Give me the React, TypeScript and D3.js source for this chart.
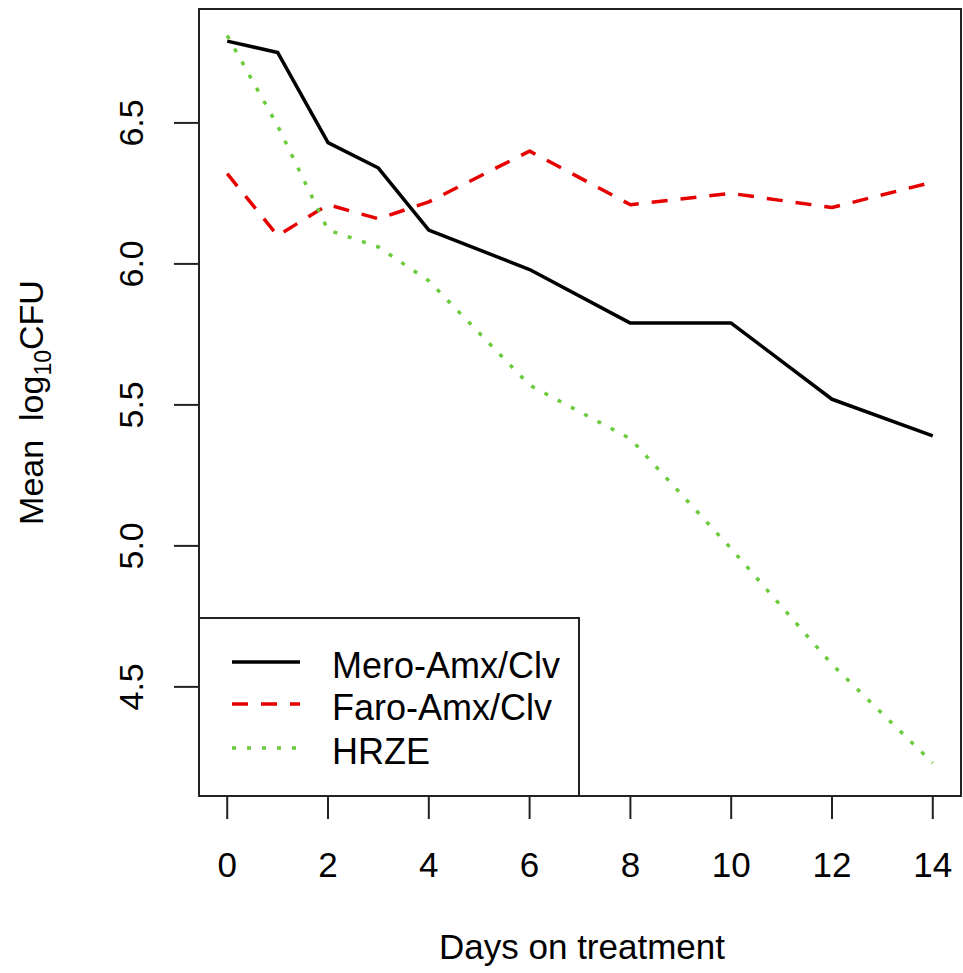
import React, { useEffect, useRef } from 'react'
import * as d3 from 'd3'

// days on treatment and mean log10 CFU per regimen
const days = [0, 1, 2, 3, 4, 6, 8, 10, 12, 14]
const mero = [6.79, 6.75, 6.43, 6.34, 6.12, 5.98, 5.79, 5.79, 5.52, 5.39]
const faro = [6.32, 6.10, 6.21, 6.16, 6.22, 6.40, 6.21, 6.25, 6.20, 6.29]
const hrze = [6.81, 6.49, 6.12, 6.06, 5.94, 5.57, 5.38, 4.99, 4.58, 4.23]

const seriesNames = ['Mero-Amx/Clv', 'Faro-Amx/Clv', 'HRZE']
const xTicks = [0, 2, 4, 6, 8, 10, 12, 14]
const yTicks = [4.5, 5.0, 5.5, 6.0, 6.5]

export default function App() {
  const ref = useRef<SVGSVGElement>(null)

  useEffect(() => {
    var width = 963
    var height = 973
    var box = { left: 199, right: 961, top: 9, bottom: 796 }
    var font = "'Liberation Sans', Arial, sans-serif"

    const svg = d3.select(ref.current)
    svg.selectAll('*').remove()

    var x = d3.scaleLinear().domain([-0.56, 14.56]).range([box.left, box.right])
    var y = d3.scaleLinear().domain([4.113, 6.904]).range([box.bottom, box.top])

    var styles = [
      { color: '#000000', dash: null },
      { color: '#e60000', dash: '16 13' },
      { color: '#6bcb3d', dash: '4 11' },
    ]
    var series = [mero, faro, hrze]

    var line = d3.line<number>()
      .x((d, i) => x(days[i]))
      .y(d => y(d))

    svg.append('g')
      .selectAll('path')
      .data(series)
      .join('path')
        .attr('d', d => line(d))
        .attr('fill', 'none')
        .attr('stroke', (d, i) => styles[i].color)
        .attr('stroke-width', 3.5)
        .attr('stroke-dasharray', (d, i) => styles[i].dash)
        .attr('stroke-linejoin', 'round')

    // x axis
    var xAxis = svg.append('g')
    xAxis.selectAll('line')
      .data(xTicks)
      .join('line')
        .attr('x1', d => x(d)).attr('x2', d => x(d))
        .attr('y1', box.bottom).attr('y2', box.bottom + 23)
        .attr('stroke', '#222').attr('stroke-width', 2)
    xAxis.selectAll('text')
      .data(xTicks)
      .join('text')
        .attr('x', d => x(d))
        .attr('y', 877)
        .attr('text-anchor', 'middle')
        .attr('font-family', font)
        .attr('font-size', 35)
        .text(d => d)

    // y axis
    var yAxis = svg.append('g')
    yAxis.selectAll('line')
      .data(yTicks)
      .join('line')
        .attr('x1', box.left - 25).attr('x2', box.left)
        .attr('y1', d => y(d)).attr('y2', d => y(d))
        .attr('stroke', '#222').attr('stroke-width', 2)
    yAxis.selectAll('text')
      .data(yTicks)
      .join('text')
        .attr('transform', d => `translate(143,${y(d)}) rotate(-90)`)
        .attr('text-anchor', 'middle')
        .attr('font-family', font)
        .attr('font-size', 34)
        .text(d => d3.format('.1f')(d))

    // plot frame
    svg.append('rect')
      .attr('x', box.left).attr('y', box.top)
      .attr('width', box.right - box.left).attr('height', box.bottom - box.top)
      .attr('fill', 'none').attr('stroke', '#222').attr('stroke-width', 2)

    // axis titles
    svg.append('text')
      .attr('x', (box.left + box.right) / 2 + 2)
      .attr('y', 959)
      .attr('text-anchor', 'middle')
      .attr('font-family', font)
      .attr('font-size', 35)
      .text('Days on treatment')

    var yt = svg.append('text')
      .attr('transform', `translate(43,${(box.top + box.bottom) / 2}) rotate(-90)`)
      .attr('text-anchor', 'middle')
      .attr('font-family', font)
      .attr('font-size', 34)
      .style('white-space', 'pre')
    yt.append('tspan').text('Mean  log')
    yt.append('tspan').attr('font-size', 23).attr('dy', 8).text('10')
    yt.append('tspan').attr('dy', -8).text('CFU')

    // legend
    var lg = svg.append('g')
    lg.append('rect')
      .attr('x', box.left).attr('y', 618)
      .attr('width', 579 - box.left).attr('height', box.bottom - 618)
      .attr('fill', 'white').attr('stroke', '#222').attr('stroke-width', 2)
    var rows = [662, 704, 748]
    lg.selectAll('line.key')
      .data(seriesNames)
      .join('line')
        .attr('class', 'key')
        .attr('x1', 232).attr('x2', 300)
        .attr('y1', (d, i) => rows[i]).attr('y2', (d, i) => rows[i])
        .attr('stroke', (d, i) => styles[i].color)
        .attr('stroke-width', 3.5)
        .attr('stroke-dasharray', (d, i) => styles[i].dash)
    lg.selectAll('text')
      .data(seriesNames)
      .join('text')
        .attr('x', 332)
        .attr('y', (d, i) => rows[i] + 16)
        .attr('font-family', font)
        .attr('font-size', 36)
        .text(d => d)

    svg.attr('width', width).attr('height', height)
  }, [])

  return (
    <svg ref={ref} width={963} height={973}
      style={{ position: 'absolute', left: 0, top: 0, background: 'white' }} />
  )
}
